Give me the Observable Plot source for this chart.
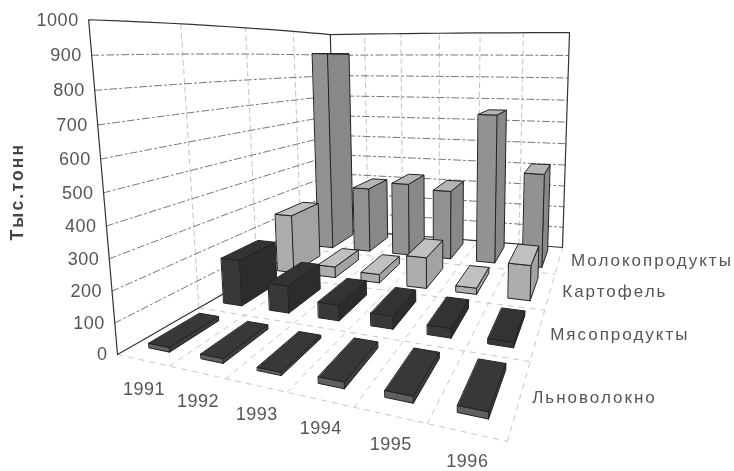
<!DOCTYPE html>
<html><head><meta charset="utf-8">
<style>html,body{margin:0;padding:0;background:#fff}svg{display:block}</style>
<script src="https://cdn.jsdelivr.net/npm/d3@7"></script>
<script src="https://cdn.jsdelivr.net/npm/@observablehq/plot@0.6"></script>
</head><body><div id="chart"></div>
<script>
const years = ["1991","1992","1993","1994","1995","1996"];
const seriesNames = ["Льноволокно","Мясопродукты","Картофель","Молокопродукты"];
const flax = [15,15,10,20,20,20];
const meat = [170,100,57,45,33,18];
const potato = [245,45,35,125,25,138];
const dairy = [905,297,330,310,653,410];
const valueTicks = [0,100,200,300,400,500,600,700,800,900,1000];
const axisTitle = "Тыс.тонн";
const values = [flax,meat,potato,dairy];

// view of the 3D box: floor quad (year axis, depth axis), wall heights, vertical vanishing point
const floorQ = [[117,354],[507,441],[562,247],[335,229]];
const heightAt = {a:336,b:400,d:195};
const vanish = [437,4066];
function homography([p0,p1,p2,p3]){
  const dx1=p1[0]-p2[0],dy1=p1[1]-p2[1],dx2=p3[0]-p2[0],dy2=p3[1]-p2[1];
  const sx=p0[0]-p1[0]+p2[0]-p3[0],sy=p0[1]-p1[1]+p2[1]-p3[1];
  const D=dx1*dy2-dx2*dy1,g=(sx*dy2-sy*dx2)/D,h=(dx1*sy-dy1*sx)/D;
  return (u,v)=>{const d=1+g*u+h*v;
    return [((p1[0]-p0[0]+g*p1[0])*u+(p3[0]-p0[0]+h*p3[0])*v+p0[0])/d,
            ((p1[1]-p0[1]+g*p1[1])*u+(p3[1]-p0[1]+h*p3[1])*v+p0[1])/d];};
}
const F=homography(floorQ);
function P(u0,v,val){
  const u=u0+0.07*u0*(1-u0)*(1-v);
  const w0=val/1000,w=w0/(1+0.07*(1-w0));
  const a=F(u,v);
  const inv=(1/heightAt.a)+(1/heightAt.b-1/heightAt.a)*u+(1/heightAt.d-1/heightAt.a)*v;
  const H=1/inv,dx=a[0]-vanish[0],dy=a[1]-vanish[1],L=Math.hypot(dx,dy);
  return [a[0]+dx/L*H*w,a[1]+dy/L*H*w];
}
const ny=years.length,ns=seriesNames.length;
function seg(id,a,b){const n=14,o=[];for(let i=0;i<=n;i++){const t=i/n;
  const p=P(a[0]+(b[0]-a[0])*t,a[1]+(b[1]-a[1])*t,a[2]+(b[2]-a[2])*t);o.push({id,x:p[0],y:p[1]});}return o;}

const wallH=[],wallV=[],floorG=[],frame=[];
valueTicks.slice(1,-1).forEach(t=>{
  wallH.push(...seg("l"+t,[0,0,t],[0,1,t]),...seg("b"+t,[0,1,t],[1,1,t]));
});
for(let i=1;i<ns;i++) wallV.push(...seg("lv"+i,[0,i/ns,0],[0,i/ns,1000]));
for(let i=1;i<ny;i++) wallV.push(...seg("bv"+i,[i/ny,1,0],[i/ny,1,1000]));
for(let i=0;i<ny;i++) floorG.push(...seg("fy"+i,[(i+1)/ny,0,0],[(i+1)/ny,1,0]));
for(let j=0;j<ns;j++) floorG.push(...seg("fs"+j,[0,j/ns,0],[1,j/ns,0]));
frame.push(...seg("a",[0,0,0],[0,0,1000]),...seg("a",[0,0,1000],[0,1,1000]),...seg("a",[0,1,1000],[1,1,1000]),...seg("a",[1,1,1000],[1,1,0]));
frame.push(...seg("c",[0,1,1000],[0,1,0]));
frame.push(...seg("d",[0,0,0],[0,1,0]),...seg("d",[0,1,0],[1,1,0]));

const shades=[
 {front:"#606060",side:"#3c3c3c",top:"#383838"},
 {front:"#383838",side:"#2c2c2c",top:"#333333"},
 {front:"#adadad",side:"#a3a3a3",top:"#c0c0c0"},
 {front:"#929292",side:"#888888",top:"#b4b4b4"}];
const faces=[];
const bu=0.2,bv=0.32;
for(let j=ns-1;j>=0;j--){
  for(let i=0;i<ny;i++){
    const u0=(i+.5-bu)/ny,u1=(i+.5+bu)/ny,v0=(j+.5-bv)/ns,v1=(j+.5+bv)/ns,val=values[j][i];
    const poly=(name,pts,fill)=>pts.forEach(p=>{const q=P(...p);faces.push({id:`${j}-${i}-${name}`,x:q[0],y:q[1],fill});});
    poly("side",[[u1,v0,0],[u1,v1,0],[u1,v1,val],[u1,v0,val]],shades[j].side);
    poly("front",[[u0,v0,0],[u1,v0,0],[u1,v0,val],[u0,v0,val]],shades[j].front);
    poly("top",[[u0,v0,val],[u1,v0,val],[u1,v1,val],[u0,v1,val]],shades[j].top);
  }
}
const yLabels=valueTicks.map(t=>{const p=P(0,0,t);return {x:p[0],y:p[1],t:String(t)};});
const xLabels=years.map((t,i)=>{const p=P((i+.5)/ny,0,0);return {x:p[0],y:p[1],t};});
const sLabels=seriesNames.map((t,j)=>{const p=P(1,(j+.5)/ns,0);return {x:p[0],y:p[1],t};});
const font="Liberation Sans, Arial, sans-serif";
const chart=Plot.plot({
  width:734,height:471,margin:0,
  style:{background:"#fff",fontFamily:font,filter:"blur(0.45px)"},
  x:{domain:[0,734],range:[0,734],axis:null},
  y:{domain:[0,471],range:[0,471],axis:null},
  color:{type:"identity"},
  marks:[
    Plot.line(wallV,{x:"x",y:"y",z:"id",stroke:"#c4c4c4",strokeWidth:1,strokeDasharray:"5 4"}),
    Plot.line(wallH,{x:"x",y:"y",z:"id",stroke:"#777",strokeWidth:1,strokeDasharray:"7 3 2 3"}),
    Plot.line(floorG,{x:"x",y:"y",z:"id",stroke:"#c8c8c8",strokeWidth:1,strokeDasharray:"5 6"}),
    Plot.line(frame,{x:"x",y:"y",z:"id",stroke:"#333",strokeWidth:1.2}),
    Plot.line(faces,{x:"x",y:"y",z:"id",fill:"fill",stroke:"#222",strokeWidth:1,curve:"linear-closed"}),
    Plot.text(yLabels,{x:"x",y:"y",text:"t",dx:-10,textAnchor:"end",fontSize:18,fill:"#555"}),
    Plot.text(xLabels,{x:"x",y:"y",text:"t",dx:1,dy:29,fontSize:18,fill:"#555"}),
    Plot.text(sLabels,{x:"x",y:"y",text:"t",dx:12,dy:1,textAnchor:"start",fontSize:17,fill:"#555"}),
    Plot.text([axisTitle],{x:()=>16.5,y:()=>191,text:d=>d,rotate:-90,fontSize:17.5,fontWeight:"bold",fill:"#444"})
  ]
});
d3.select(chart).selectAll("text").each(function(){
  const s=this.textContent;
  this.style.letterSpacing=seriesNames.includes(s)?"2px":s===axisTitle?"2.2px":"0.5px";
});
document.getElementById("chart").append(chart);
</script></body></html>
